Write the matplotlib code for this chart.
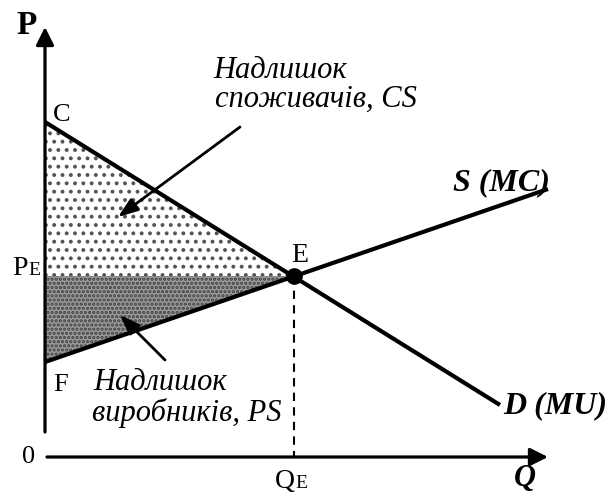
import matplotlib
matplotlib.use("Agg")
import matplotlib.pyplot as plt
from matplotlib.patches import Polygon

plt.rcParams['font.family'] = ['Liberation Serif', 'DejaVu Serif']
plt.rcParams['hatch.linewidth'] = 1.6

# ---- data (units) ----
demand_q = [0.0, 45.5]
demand_p = [33.5, 5.2]
supply_q = [0.0, 50.3]
supply_p = [9.5, 26.8]
q_e = 24.9
p_e = 18.1
p_c = 33.5
p_f = 9.5

y_axis_range = [2.5, 43.0]
x_axis_range = [0.2, 50.3]

cs_label = ["Надлишок", "споживачів, CS"]
ps_label = ["Надлишок", "виробників, PS"]
demand_label = "D (MU)"
supply_label = "S (MC)"

fig = plt.figure(figsize=(6.14, 4.96), dpi=100)
ax = fig.add_axes([0, 0, 1, 1])
ax.set_xlim(-4.5, 56.9)
ax.set_ylim(-3.9, 45.7)
ax.axis('off')

# surplus areas
cs = Polygon([(0, p_c), (q_e, p_e), (0, p_e)], closed=True,
             facecolor='white', edgecolor='#555555', linewidth=0, hatch='..', zorder=1)
ps = Polygon([(0, p_e), (q_e, p_e), (0, p_f)], closed=True,
             facecolor='#9a9a9a', edgecolor='#404040', linewidth=0, hatch='....', zorder=1)
ax.add_patch(cs)
ax.add_patch(ps)

# axes with arrows
ax.annotate('', xy=(0, y_axis_range[1]), xytext=(0, y_axis_range[0]),
            arrowprops=dict(arrowstyle='-|>,head_length=0.4,head_width=0.2',
                            lw=2.3, color='black', mutation_scale=27,
                            shrinkA=0, shrinkB=0), zorder=4)
ax.annotate('', xy=(x_axis_range[1], 0), xytext=(x_axis_range[0], 0),
            arrowprops=dict(arrowstyle='-|>,head_length=0.4,head_width=0.2',
                            lw=2.3, color='black', mutation_scale=27,
                            shrinkA=0, shrinkB=0), zorder=4)

# curves
ax.plot(demand_q, demand_p, color='black', lw=3.0, solid_capstyle='butt', zorder=3)
ax.plot(supply_q, supply_p, color='black', lw=3.0, solid_capstyle='butt', zorder=3)

# equilibrium
ax.plot([q_e, q_e], [p_e, 0], color='black', lw=1.5, dashes=(4, 3), zorder=2)
ax.plot([q_e], [p_e], 'o', color='black', markersize=11, zorder=5)

# pointer arrows
ax.annotate('', xy=(7.3, 24.0), xytext=(19.5, 33.0),
            arrowprops=dict(arrowstyle='-|>,head_length=0.55,head_width=0.2',
                            lw=2.0, color='black', mutation_scale=22,
                            shrinkA=0, shrinkB=0), zorder=4)
ax.annotate('', xy=(7.5, 14.2), xytext=(12.0, 9.7),
            arrowprops=dict(arrowstyle='-|>,head_length=0.55,head_width=0.2',
                            lw=2.0, color='black', mutation_scale=22,
                            shrinkA=0, shrinkB=0), zorder=4)

# labels
ax.text(-1.8, 43.2, 'P', fontsize=24, fontweight='bold', ha='center', va='center')
ax.text(0.8, 34.2, 'C', fontsize=19, ha='left', va='center')
ax.text(0.8, 7.2, 'F', fontsize=19, ha='left', va='center')
ax.text(25.5, 20.2, 'E', fontsize=20, ha='center', va='center')
ax.text(-1.6, 0.0, '0', fontsize=19, ha='center', va='center')
ax.text(-1.7, 18.2, 'P', fontsize=20, ha='right', va='baseline')
ax.text(-1.7, 18.2, 'E', fontsize=14, ha='left', va='baseline')
ax.text(25.0, -3.1, 'Q', fontsize=20, ha='right', va='baseline')
ax.text(25.0, -3.1, 'E', fontsize=14, ha='left', va='baseline')
ax.text(48.0, -2.9, 'Q', fontsize=22, fontweight='bold', style='italic',
        ha='center', va='baseline')

ax.text(16.8, 37.9, cs_label[0], fontsize=22, style='italic', ha='left', va='baseline')
ax.text(17.0, 35.0, cs_label[1], fontsize=22, style='italic', ha='left', va='baseline')
ax.text(4.8, 6.7, ps_label[0], fontsize=22, style='italic', ha='left', va='baseline')
ax.text(4.7, 3.6, ps_label[1], fontsize=22, style='italic', ha='left', va='baseline')

ax.text(45.8, 4.4, demand_label, fontsize=23, fontweight='bold', style='italic',
        ha='left', va='baseline')
ax.text(40.8, 26.7, supply_label, fontsize=23, fontweight='bold', style='italic',
        ha='left', va='baseline')

fig.savefig('out.png', dpi=100)
